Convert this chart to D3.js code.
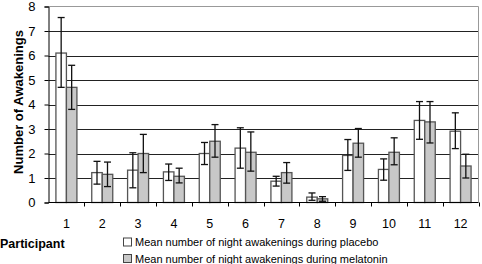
<!DOCTYPE html>
<meta charset="utf-8">
<script src="https://d3js.org/d3.v7.min.js"></script>
<style>
  body { margin: 0; background: white; }
  text { font-family: "Liberation Sans", Arial, sans-serif; }
</style>
<div id="chart"></div>
<script>
// data
var participants = ["1","2","3","4","5","6","7","8","9","10","11","12"];
var placeboMean = [6.1, 1.22, 1.32, 1.25, 2.0, 2.22, 0.87, 0.22, 1.92, 1.35, 3.35, 2.91];
var placeboLow  = [4.7, 0.75, 0.6, 0.9, 1.55, 1.4, 0.67, 0.09, 1.31, 0.91, 2.58, 2.2];
var placeboHigh = [7.55, 1.68, 2.03, 1.57, 2.45, 3.05, 1.07, 0.39, 2.57, 1.78, 4.12, 3.66];
var melatoninMean = [4.7, 1.15, 2.0, 1.07, 2.5, 2.05, 1.22, 0.15, 2.42, 2.05, 3.29, 1.49];
var melatoninLow  = [3.8, 0.65, 1.22, 0.8, 1.85, 1.28, 0.79, 0.05, 1.85, 1.54, 2.43, 1.0];
var melatoninHigh = [5.6, 1.65, 2.78, 1.4, 3.18, 2.88, 1.63, 0.24, 3.02, 2.64, 4.12, 1.97];
var yTicks = [0,1,2,3,4,5,6,7,8];
var seriesNames = ["Mean number of night awakenings during placebo",
                   "Mean number of night awakenings during melatonin"];
var seriesFill = ["#ffffff", "#c8c8c8"];

var W = 482, H = 264;
var m = {left: 48.5, right: 478.5, top: 6.5, bottom: 202.5};

var svg = d3.select("#chart").append("svg")
    .attr("width", W).attr("height", H);

var x = d3.scaleBand().domain(participants).range([m.left, m.right]);
var sub = d3.scaleBand().domain([0,1]).range([0, 21]);
var y = d3.scaleLinear().domain([0, 8]).range([m.bottom, m.top]);

// grid lines
svg.append("g").selectAll("line")
  .data(yTicks.filter(function(d){ return d > 0 && d < 8; }))
  .enter().append("line")
    .attr("x1", m.left).attr("x2", m.right)
    .attr("y1", function(d){ return Math.round(y(d)) + 0.5; })
    .attr("y2", function(d){ return Math.round(y(d)) + 0.5; })
    .attr("stroke", "#222").attr("stroke-width", 1);

// top and right frame
svg.append("path")
  .attr("d", "M" + m.left + "," + m.top + "H" + m.right + "V" + m.bottom)
  .attr("fill", "none").attr("stroke", "#999").attr("stroke-width", 1);

// series
var series = [
  {mean: placeboMean, lo: placeboLow, hi: placeboHigh},
  {mean: melatoninMean, lo: melatoninLow, hi: melatoninHigh}
];
var off = (x.bandwidth() - 21) / 2;

series.forEach(function(s, k) {
  var g = svg.append("g");
  g.selectAll("rect").data(participants).enter().append("rect")
    .attr("x", function(d){ return x(d) + off + sub(k); })
    .attr("width", sub.bandwidth())
    .attr("y", function(d, i){ return y(s.mean[i]); })
    .attr("height", function(d, i){ return m.bottom - y(s.mean[i]); })
    .attr("fill", seriesFill[k])
    .attr("stroke", "#555").attr("stroke-width", 1.3);
});

series.forEach(function(s, k) {
  var g = svg.append("g").attr("stroke", "#111").attr("stroke-width", 1.3);
  participants.forEach(function(d, i) {
    var cx = x(d) + off + sub(k) + sub.bandwidth() / 2;
    g.append("line").attr("x1", cx).attr("x2", cx)
      .attr("y1", y(s.lo[i])).attr("y2", y(s.hi[i]));
    [s.lo[i], s.hi[i]].forEach(function(v) {
      g.append("line").attr("x1", cx - 3.5).attr("x2", cx + 3.5)
        .attr("y1", y(v)).attr("y2", y(v));
    });
  });
});

// y axis
var yAxis = svg.append("g")
  .attr("transform", "translate(" + m.left + ",0)")
  .call(d3.axisLeft(y).tickValues(yTicks).tickSize(4).tickPadding(9));
yAxis.select(".domain").attr("stroke", "#000");
yAxis.selectAll(".tick line").attr("stroke", "#000");
yAxis.selectAll(".tick text").attr("font-size", 13).attr("fill", "#000")
  .attr("font-family", "Liberation Sans, Arial, sans-serif");

// x axis: ticks at category boundaries
var xAxis = svg.append("g")
  .attr("transform", "translate(0," + m.bottom + ")");
xAxis.append("line").attr("x1", m.left).attr("x2", m.right)
  .attr("stroke", "#000");
xAxis.selectAll(".bt").data(participants).enter().append("line")
  .attr("x1", function(d){ return Math.round(x(d) + x.bandwidth()) + 0.5; })
  .attr("x2", function(d){ return Math.round(x(d) + x.bandwidth()) + 0.5; })
  .attr("y1", 0).attr("y2", 4).attr("stroke", "#000");
xAxis.selectAll("text").data(participants).enter().append("text")
  .attr("x", function(d){ return x(d) + x.bandwidth() / 2; })
  .attr("y", 25.5)
  .attr("text-anchor", "middle")
  .attr("font-size", 12.5)
  .text(function(d){ return d; });

// axis titles
svg.append("text")
  .attr("transform", "translate(23,102) rotate(-90)")
  .attr("text-anchor", "middle")
  .attr("font-size", 13).attr("font-weight", "bold")
  .text("Number of Awakenings");
svg.append("text")
  .attr("x", 0).attr("y", 248)
  .attr("font-size", 12.5).attr("font-weight", "bold")
  .text("Participant");

// legend
var leg = svg.append("g").selectAll("g").data(seriesNames).enter().append("g")
  .attr("transform", function(d, i){ return "translate(123," + (241.5 + i * 16.5) + ")"; });
leg.append("rect")
  .attr("x", 0.5).attr("y", -3.5).attr("width", 8).attr("height", 8)
  .attr("fill", function(d, i){ return seriesFill[i]; })
  .attr("stroke", "#444").attr("stroke-width", 1);
leg.append("text")
  .attr("x", 12).attr("y", 4.5)
  .attr("font-size", 11)
  .text(function(d){ return d; });
</script>
